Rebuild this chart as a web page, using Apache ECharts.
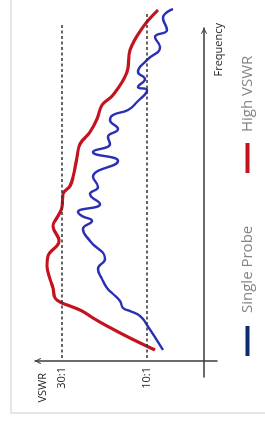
<!DOCTYPE html>
<html>
<head>
<meta charset="utf-8">
<title>VSWR vs Frequency</title>
<script src="https://cdn.jsdelivr.net/npm/echarts@6/dist/echarts.min.js"></script>
<style>
  html, body { margin: 0; padding: 0; background: #fff; overflow: hidden; }
  /* chart is drawn landscape, then turned a quarter turn to the left */
  #chart {
    position: absolute; left: 0; top: 0;
    width: 427px; height: 265px;
    transform-origin: 0 0;
    transform: translateY(427px) rotate(-90deg);
  }
</style>
</head>
<body>
<div id="chart"></div>
<script>
// frequency (arbitrary units, 0 at the VSWR axis) and VSWR level (arbitrary units)
var highFreq = [11, 23, 35, 43, 50, 55, 58, 63, 73, 82, 95, 105, 120, 135, 145, 154, 167, 175, 184, 204, 217, 229, 242, 256, 266, 289, 311, 334, 351];
var highVswr = [49, 74, 97, 111, 122, 134, 142, 149, 151, 154, 157, 156, 145, 151, 146, 142, 141, 134, 131, 127, 124, 114, 107, 102, 91, 77, 74, 61, 46];

var probeFreq = [11, 36, 45, 50, 53, 60, 68, 73, 82, 92, 102, 120, 132, 140, 145, 149, 157, 167, 174, 184, 200, 209, 217, 224, 232, 241, 246, 251, 259, 271, 274, 282, 289, 301, 314, 324, 331, 343, 352];
var probeVswr = [41, 57, 64, 74, 81, 84, 92, 97, 102, 106, 99, 114, 121, 112, 122, 126, 104, 114, 106, 111, 86, 111, 94, 96, 86, 94, 91, 76, 67, 57, 66, 59, 66, 57, 44, 49, 37, 41, 31];

var vswrTicks = [57, 142];
var vswrTickLabels = ['10:1', '30:1'];
var refLineEnds = [349, 336];

function pairs(xs, ys) {
    var out = [];
    for (var i = 0; i < xs.length; i++) {
        out.push([xs[i], ys[i]]);
    }
    return out;
}

var chart = echarts.init(document.getElementById('chart'));

var arrow = 'path://M0,9 L5,0 L10,9 L8.6,9.8 L5,3.2 L1.4,9.8 Z';
var font = '"Open Sans", sans-serif';

var refLines = [];
for (var i = 0; i < vswrTicks.length; i++) {
    refLines.push([{ coord: [3, vswrTicks[i]] }, { coord: [refLineEnds[i], vswrTicks[i]] }]);
}

option = {
    animation: false,
    backgroundColor: '#fff',
    graphic: [{
        type: 'rect',
        shape: { x: 14, y: 11, width: 430, height: 270 },
        style: { fill: null, stroke: '#e3e6ea', lineWidth: 2 },
        silent: true
    }],
    legend: [{
        left: 66, top: 235,
        data: [{ name: 'Single Probe', itemStyle: { color: '#0c2a6c' } }],
        icon: 'rect', itemWidth: 30, itemHeight: 4,
        textStyle: { color: '#858585', fontSize: 15, fontFamily: font, padding: [0, 0, 0, 8] }
    }, {
        left: 249, top: 235,
        data: [{ name: 'High VSWR', itemStyle: { color: '#c4121f' } }],
        icon: 'rect', itemWidth: 30, itemHeight: 4,
        textStyle: { color: '#858585', fontSize: 15, fontFamily: font, padding: [0, 0, 0, 6] }
    }],
    grid: [
        { left: 50, top: 35, width: 377, height: 182, containLabel: false, outerBoundsMode: 'none' },
        { left: 50, top: 35, width: 349, height: 182, containLabel: false, outerBoundsMode: 'none' }
    ],
    xAxis: [{
        gridIndex: 0, type: 'value', min: -16, max: 361, show: false
    }, {
        gridIndex: 1, type: 'value', min: -16, max: 333,
        name: 'Frequency', nameLocation: 'end', nameGap: 5,
        nameTextStyle: { color: '#1e1e1e', fontSize: 11, fontFamily: font, align: 'right', verticalAlign: 'top', padding: [9, 0, 0, 0] },
        axisLine: { show: true, onZero: true, symbol: ['none', arrow], symbolSize: [9, 6], symbolOffset: [0, -3],
            lineStyle: { color: '#3a3a3a', width: 1.5 } },
        axisTick: { show: false },
        axisLabel: { show: false },
        splitLine: { show: false }
    }],
    yAxis: [{
        gridIndex: 0, type: 'value', min: -13, max: 169, show: false
    }, {
        gridIndex: 1, type: 'value', min: -13, max: 169,
        name: 'VSWR', nameLocation: 'end', nameGap: -8,
        nameTextStyle: { color: '#1e1e1e', fontSize: 11, fontFamily: font, align: 'right', verticalAlign: 'middle', padding: [0, 12, 0, 0] },
        axisLine: { show: true, onZero: true, symbol: ['none', arrow], symbolSize: [9, 6], symbolOffset: [0, -3],
            lineStyle: { color: '#3a3a3a', width: 1.5 } },
        axisTick: { show: false },
        axisLabel: {
            customValues: vswrTicks,
            margin: -10,
            color: '#1e1e1e', fontSize: 11, fontFamily: font,
            formatter: function (v) { return vswrTickLabels[vswrTicks.indexOf(v)] || ''; }
        },
        splitLine: { show: false }
    }],
    series: [{
        name: 'Single Probe',
        type: 'line',
        xAxisIndex: 0, yAxisIndex: 0,
        data: pairs(probeFreq, probeVswr),
        smooth: 0.5,
        symbol: 'none',
        lineStyle: { color: '#2b2fb5', width: 2.4 },
        itemStyle: { color: '#2b2fb5' },
        markLine: {
            silent: true,
            symbol: ['none', 'none'],
            label: { show: false },
            lineStyle: { color: '#333', width: 1.5, type: [3, 2.5] },
            data: refLines
        },
        z: 3
    }, {
        name: 'High VSWR',
        type: 'line',
        xAxisIndex: 0, yAxisIndex: 0,
        data: pairs(highFreq, highVswr),
        smooth: 0.4,
        symbol: 'none',
        lineStyle: { color: '#c4121f', width: 3.2 },
        itemStyle: { color: '#c4121f' },
        z: 4
    }]
};

chart.setOption(option);
</script>
</body>
</html>
